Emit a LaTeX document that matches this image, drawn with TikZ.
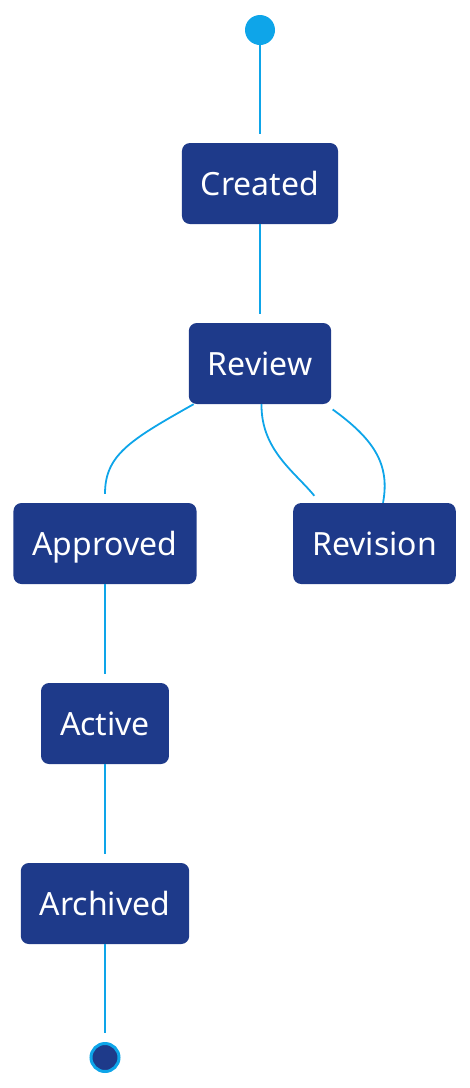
\documentclass[tikz,border=0pt]{standalone}
\usepackage{fontspec}
\setmainfont{Noto Sans}
\usetikzlibrary{calc}
\definecolor{boxblue}{RGB}{30,58,138}
\definecolor{lineblue}{RGB}{14,165,233}

\begin{document}
\begin{tikzpicture}[x=1pt,y=-1pt,
    state/.style={fill=boxblue, rounded corners=8pt, text=white, minimum height=81pt,
        inner xsep=19pt, text height=23pt, text depth=0pt, font=\fontsize{32}{36}\selectfont},
    link/.style={draw=lineblue, line width=1.8pt, shorten >=9pt}]
    \useasboundingbox (0,0) rectangle (470,1088);
    % states
    \node[circle, fill=lineblue, minimum size=30pt, inner sep=0pt] (start) at (260,30) {};
    \node[state] (created) at (260,183.5) {Created};
    \node[state] (review) at (260,363.5) {Review};
    \node[state] (approved) at (105,543.5) {Approved};
    \node[state] (revision) at (374.5,543.5) {Revision};
    \node[state] (active) at (105,723.5) {Active};
    \node[state] (archived) at (105,903.5) {Archived};
    \node[circle, fill=boxblue, draw=lineblue, line width=3pt, minimum size=28pt, inner sep=0pt] (stop) at (105,1057.5) {};
    % transitions
    \draw[link] (start) -- (created);
    \draw[link] (created) -- (review);
    \draw[link] ([xshift=5pt]review.south west) .. controls (130,440) and (105,455) .. (approved.north);
    \draw[link] ([xshift=1.5pt]review.south) .. controls (261,450) and (295,472) .. ([xshift=27pt]revision.north west);
    \draw[link] ([xshift=90pt]revision.north west) .. controls (390,465) and (375,440) .. ([xshift=-6pt]review.south east);
    \draw[link] (approved) -- (active);
    \draw[link] (active) -- (archived);
    \draw[link] (archived) -- (stop);
\end{tikzpicture}
\end{document}
